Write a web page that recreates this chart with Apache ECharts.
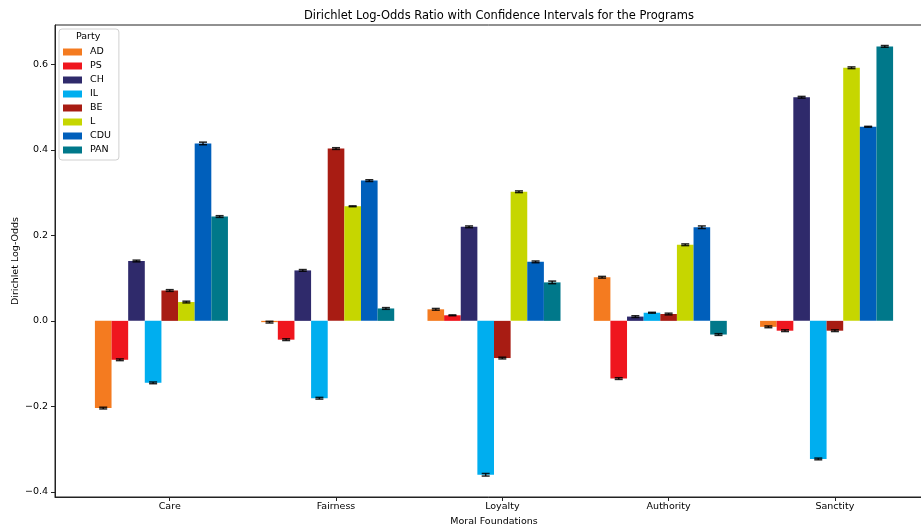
<!DOCTYPE html>
<html>
<head>
<meta charset="utf-8">
<script src="https://cdn.jsdelivr.net/npm/echarts@6/dist/echarts.min.js"></script>
<style>
  html, body { margin: 0; padding: 0; background: #fff; }
  #chart { width: 921px; height: 527px; }
</style>
</head>
<body>
<div id="chart"></div>
<script>
// Moral foundations on the x axis, one bar per party in each group
const categories = ['Care', 'Fairness', 'Loyalty', 'Authority', 'Sanctity'];
const parties = ['AD', 'PS', 'CH', 'IL', 'BE', 'L', 'CDU', 'PAN'];
const partyColors = ['#f47b20', '#ef161e', '#2f2a6b', '#00aeef', '#a81c13', '#c6d600', '#005fbb', '#00788a'];

// Dirichlet log-odds per party, in category order
const AD  = [-0.204, -0.003,  0.027,  0.102, -0.014];
const PS  = [-0.091, -0.044,  0.013, -0.135, -0.023];
const CH  = [ 0.140,  0.118,  0.220,  0.010,  0.523];
const IL  = [-0.145, -0.181, -0.360,  0.019, -0.323];
const BE  = [ 0.071,  0.403, -0.087,  0.016, -0.023];
const L   = [ 0.044,  0.268,  0.302,  0.178,  0.592];
const CDU = [ 0.415,  0.328,  0.138,  0.219,  0.454];
const PAN = [ 0.244,  0.029,  0.090, -0.032,  0.642];

// Half-widths of the confidence intervals
const AD_ci  = [0.002, 0.002, 0.002, 0.002, 0.002];
const PS_ci  = [0.002, 0.002, 0.001, 0.002, 0.002];
const CH_ci  = [0.002, 0.002, 0.002, 0.002, 0.002];
const IL_ci  = [0.002, 0.002, 0.003, 0.001, 0.002];
const BE_ci  = [0.002, 0.002, 0.002, 0.002, 0.002];
const L_ci   = [0.002, 0.001, 0.002, 0.002, 0.002];
const CDU_ci = [0.003, 0.002, 0.002, 0.003, 0.001];
const PAN_ci = [0.002, 0.002, 0.003, 0.002, 0.002];

const yTicks = [-0.4, -0.2, 0.0, 0.2, 0.4, 0.6];
const xTicks = [0, 1, 2, 3, 4];

const values = [AD, PS, CH, IL, BE, L, CDU, PAN];
const cis = [AD_ci, PS_ci, CH_ci, IL_ci, BE_ci, L_ci, CDU_ci, PAN_ci];

const BAR_W = 0.1;
const FONT = 'DejaVu Sans';

function fmt(v) {
  return v.toFixed(1).replace('-', '\u2212');
}

const series = parties.map((name, k) => ({
  name: name,
  type: 'custom',
  coordinateSystem: 'cartesian2d',
  itemStyle: { color: partyColors[k] },
  encode: { x: 0, y: 1 },
  data: values[k].map((v, i) => [i, v, cis[k][i]]),
  renderItem: function (params, api) {
    const xi = api.value(0);
    const v = api.value(1);
    const e = api.value(2);
    const xc = xi + (k - 4) * BAR_W;
    const p0 = api.coord([xc - BAR_W / 2, 0]);
    const p1 = api.coord([xc + BAR_W / 2, v]);
    const top = api.coord([xc, v + e]);
    const bot = api.coord([xc, v - e]);
    const cx = (p0[0] + p1[0]) / 2;
    const cap = 4;
    const errStyle = { stroke: 'rgba(0,0,0,0.85)', lineWidth: 1.5 };
    return {
      type: 'group',
      children: [
        {
          type: 'rect',
          shape: {
            x: p0[0],
            y: Math.min(p0[1], p1[1]),
            width: p1[0] - p0[0],
            height: Math.abs(p1[1] - p0[1])
          },
          style: { fill: partyColors[k] }
        },
        { type: 'line', shape: { x1: cx, y1: top[1], x2: cx, y2: bot[1] }, style: errStyle },
        { type: 'line', shape: { x1: cx - cap, y1: top[1], x2: cx + cap, y2: top[1] }, style: errStyle },
        { type: 'line', shape: { x1: cx - cap, y1: bot[1], x2: cx + cap, y2: bot[1] }, style: errStyle }
      ]
    };
  }
}));

const chart = echarts.init(document.getElementById('chart'), null, { renderer: 'canvas' });
chart.setOption({
  animation: false,
  backgroundColor: '#fff',
  textStyle: { fontFamily: FONT },
  title: {
    text: 'Dirichlet Log-Odds Ratio with Confidence Intervals for the Programs',
    left: 494,
    textAlign: 'center',
    top: 5,
    textStyle: { fontFamily: FONT, fontSize: 11.5, fontWeight: 'normal', color: '#000' }
  },
  grid: {
    left: 55, top: 25, width: 878, height: 472,
    outerBoundsMode: 'none',
    containLabel: false,
    show: true, borderColor: '#222', borderWidth: 1, backgroundColor: 'transparent'
  },
  legend: {
    orient: 'vertical',
    left: 59,
    top: 29,
    data: parties,
    icon: 'rect',
    itemWidth: 19,
    itemHeight: 7,
    itemGap: 2,
    selectedMode: false,
    padding: [17, 8, 4, 4],
    borderColor: '#d0d0d0',
    borderWidth: 1,
    borderRadius: 3,
    backgroundColor: 'rgba(255,255,255,0.85)',
    textStyle: { fontFamily: FONT, fontSize: 9.5, color: '#000', lineHeight: 12, padding: [0, 0, 0, 3] }
  },
  graphic: [
    {
      type: 'text',
      left: 76,
      top: 32,
      z: 100,
      style: { text: 'Party', fontFamily: FONT, fontSize: 9.5, fill: '#000' }
    }
  ],
  xAxis: {
    type: 'value',
    min: -0.69,
    max: 4.59,
    name: 'Moral Foundations',
    nameLocation: 'middle',
    nameGap: 20,
    nameMoveOverlap: false,
    nameTextStyle: { fontFamily: FONT, fontSize: 9.5, color: '#000' },
    splitLine: { show: false },
    axisLine: { show: true, onZero: false, lineStyle: { color: '#222', width: 1 } },
    axisTick: { show: true, inside: false, length: 4, customValues: xTicks, lineStyle: { color: '#222' } },
    axisLabel: {
      show: true,
      margin: 5,
      customValues: xTicks,
      formatter: v => categories[Math.round(v)],
      fontFamily: FONT, fontSize: 9.5, color: '#000'
    }
  },
  yAxis: {
    type: 'value',
    min: -0.412,
    max: 0.692,
    name: 'Dirichlet Log-Odds',
    nameLocation: 'middle',
    nameGap: 34,
    nameRotate: 90,
    nameMoveOverlap: false,
    nameTextStyle: { fontFamily: FONT, fontSize: 9.5, color: '#000' },
    splitLine: { show: false },
    axisLine: { show: true, onZero: false, lineStyle: { color: '#222', width: 1 } },
    axisTick: { show: true, inside: false, length: 4, customValues: yTicks, lineStyle: { color: '#222' } },
    axisLabel: {
      show: true,
      margin: 7,
      customValues: yTicks,
      formatter: v => fmt(v),
      fontFamily: FONT, fontSize: 9.5, color: '#000'
    }
  },
  series: series
});
</script>
</body>
</html>
